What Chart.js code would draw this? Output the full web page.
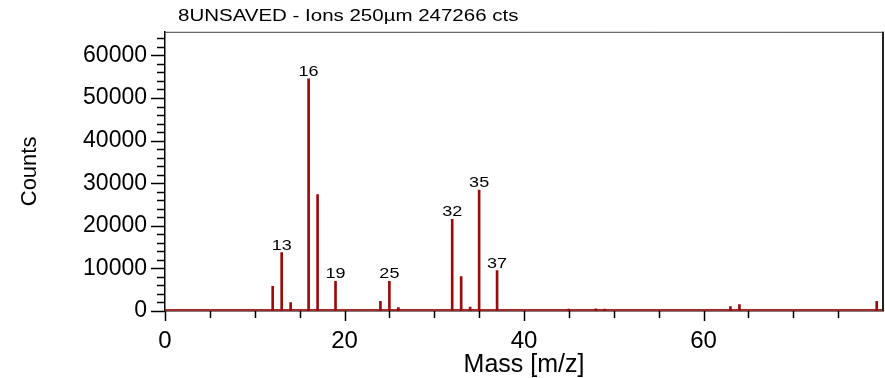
<!doctype html>
<html>

<head>
	<meta charset="utf-8">
	<title>Mass Spectrum</title>
	<script src="https://cdn.jsdelivr.net/npm/chart.js@4.4.1/dist/chart.umd.min.js"></script>
	<style>
		body {
			margin: 0;
			background: #fff;
		}
	</style>
</head>

<body>
	<canvas id="canvas" width="885" height="378"></canvas>
	<script>
		const chartTitle = '8UNSAVED - Ions 250µm 247266 cts';

		// peak positions [m/z] and heights [counts]
		const masses = [12, 13, 14, 16, 17, 19, 24, 25, 26, 32, 33, 34, 35, 37, 45, 48, 49, 63, 64, 79.3];
		const counts = [5800, 13700, 2000, 54500, 27300, 6950, 2250, 6950, 800, 21500, 8100, 900, 28400, 9500, 450, 500, 450, 1050, 1500, 2250];
		const labelledMasses = [13, 16, 19, 25, 32, 35, 37];

		// background noise level
		const baselineMasses = [0, 80];
		const baselineCounts = [250, 250];

		const xTickLabels = [0, 20, 40, 60];
		const yTickLabels = [0, 10000, 20000, 30000, 40000, 50000, 60000];
		const xMinorStep = 5;
		const yMinorStep = 2000;

		const peakColor = '#9a0c0c';
		const fontFamily = '"Liberation Sans", Arial, sans-serif';

		function stretchedText(ctx, text, x, y, size, align, stretch) {
			ctx.save();
			ctx.font = size + 'px ' + fontFamily;
			ctx.fillStyle = '#000';
			ctx.textBaseline = 'alphabetic';
			const w = ctx.measureText(text).width * stretch;
			let left = x;
			if (align === 'center') left = x - w / 2;
			ctx.translate(left, y);
			ctx.scale(stretch, 1);
			ctx.textAlign = 'left';
			ctx.fillText(text, 0, 0);
			ctx.restore();
		}

		function minorTicks(scale, step) {
			const ticks = [];
			for (let v = scale.min; v < scale.max; v += step) {
				ticks.push({value: v});
			}
			scale.ticks = ticks;
		}

		const framePlugin = {
			id: 'frame',
			afterDraw(chart) {
				const ctx = chart.ctx;
				const area = chart.chartArea;
				const x = chart.scales.x;
				const y = chart.scales.y;
				ctx.save();
				// top and right edges of the box
				ctx.strokeStyle = '#444';
				ctx.lineWidth = 1;
				ctx.beginPath();
				ctx.moveTo(area.left, area.top + 0.5);
				ctx.lineTo(area.right, area.top + 0.5);
				ctx.stroke();
				ctx.lineWidth = 2;
				ctx.strokeStyle = '#222';
				ctx.beginPath();
				ctx.moveTo(area.right, area.top);
				ctx.lineTo(area.right, area.bottom);
				ctx.stroke();

				// tick marks, outward
				ctx.strokeStyle = '#000';
				ctx.lineWidth = 1.5;
				ctx.beginPath();
				x.ticks.forEach((t) => {
					const px = Math.round(x.getPixelForValue(t.value)) + 0.5;
					const len = xTickLabels.includes(t.value) ? 10 : 7;
					ctx.moveTo(px, area.bottom);
					ctx.lineTo(px, area.bottom + len);
				});
				y.ticks.forEach((t) => {
					const py = Math.round(y.getPixelForValue(t.value)) + 0.5;
					const len = yTickLabels.includes(t.value) ? 14 : 8;
					ctx.moveTo(area.left, py);
					ctx.lineTo(area.left - len, py);
				});
				ctx.stroke();
				ctx.restore();

				stretchedText(ctx, chartTitle, 178, 20.5, 16, 'left', 1.28);
			}
		};

		const peakLabelPlugin = {
			id: 'peakLabels',
			afterDatasetsDraw(chart) {
				const ctx = chart.ctx;
				const x = chart.scales.x;
				const y = chart.scales.y;
				labelledMasses.forEach((m) => {
					const c = counts[masses.indexOf(m)];
					stretchedText(ctx, String(m), x.getPixelForValue(m), y.getPixelForValue(c) - 3, 15, 'center', 1.2);
				});
			}
		};

		const peakData = masses.map((m, i) => ({x: m, y: counts[i]}));
		const baselineData = baselineMasses.map((m, i) => ({x: m, y: baselineCounts[i]}));

		window.onload = function() {
			const ctx = document.getElementById('canvas').getContext('2d');
			window.spectrum = new Chart(ctx, {
				type: 'bar',
				data: {
					datasets: [{
						label: 'Counts',
						data: peakData,
						backgroundColor: peakColor,
						borderWidth: 0,
						barThickness: 2,
						order: 1
					}, {
						type: 'line',
						label: 'Baseline',
						data: baselineData,
						borderColor: '#a52a2a',
						borderWidth: 2,
						pointRadius: 0,
						order: 2
					}]
				},
				options: {
					responsive: false,
					animation: false,
					layout: {
						padding: {left: 0, top: 22, right: 2, bottom: 0}
					},
					plugins: {
						legend: {display: false},
						tooltip: {enabled: false}
					},
					scales: {
						x: {
							type: 'linear',
							offset: false,
							min: 0,
							max: 80,
							grid: {display: false, drawTicks: false, tickLength: 0},
							border: {display: true, color: '#000', width: 1.5},
							afterBuildTicks: (scale) => minorTicks(scale, xMinorStep),
							ticks: {
								autoSkip: false,
								maxRotation: 0,
								padding: 16,
								color: '#000',
								font: {family: fontFamily, size: 24},
								callback: (v) => xTickLabels.includes(v) ? String(v) : ''
							},
							title: {
								display: true,
								text: 'Mass [m/z]',
								color: '#000',
								font: {family: fontFamily, size: 25, lineHeight: 1},
								padding: {top: 0, bottom: 0}
							},
							afterFit(scale) {
								scale.height = 67;
							}
						},
						y: {
							type: 'linear',
							min: 0,
							max: 65536,
							grid: {display: false, drawTicks: false, tickLength: 0},
							border: {display: true, color: '#000', width: 1.5},
							afterBuildTicks: (scale) => minorTicks(scale, yMinorStep),
							ticks: {
								autoSkip: false,
								padding: 18,
								color: '#000',
								font: {family: fontFamily, size: 23},
								callback: (v) => yTickLabels.includes(v) ? String(v) : ''
							},
							title: {
								display: true,
								text: 'Counts',
								color: '#000',
								font: {family: fontFamily, size: 22, lineHeight: 1},
								padding: {top: 19, bottom: 0}
							},
							afterFit(scale) {
								scale.width = 165;
							}
						}
					}
				},
				plugins: [framePlugin, peakLabelPlugin]
			});
		};
	</script>
</body>

</html>
